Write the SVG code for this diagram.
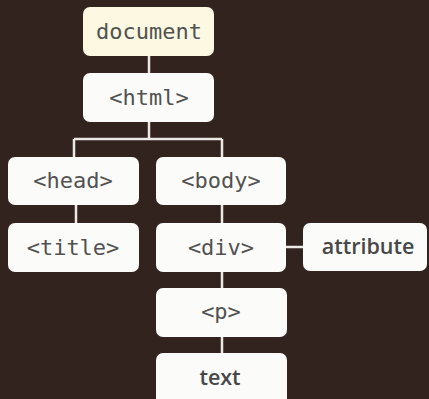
<svg xmlns="http://www.w3.org/2000/svg" width="429" height="399" viewBox="0 0 429 399">
<style>
.box{fill:#fbfbf9;}
.doc{fill:#fcf8e2;}
.mono{font-family:"DejaVu Sans Mono","Liberation Mono",monospace;font-size:22px;fill:#525252;text-anchor:middle;}
.sans{font-family:"Open Sans","Liberation Sans",sans-serif;font-weight:600;font-size:21.5px;fill:#484848;text-anchor:middle;}
.conn{stroke:#ece8e4;stroke-width:2.5;fill:none;}
</style>
<rect width="429" height="399" fill="#33231f"/>
<g id="connectors">
<path class="conn" d="M149 56V73M149 122V139M74 139H222M74 139V157M222 139V157M76 205V223M222 205V223M286 247H303M222 272V288M222 337V353"/>
</g>
<g id="document"><rect class="doc" x="83" y="7" width="131" height="49" rx="7"/><text class="mono" x="149" y="39">document</text></g>
<g id="html"><rect class="box" x="83" y="73" width="131" height="49" rx="7"/><text class="mono" x="149" y="105">&lt;html&gt;</text></g>
<g id="head"><rect class="box" x="8" y="157" width="131" height="48" rx="7"/><text class="mono" x="73" y="188">&lt;head&gt;</text></g>
<g id="body"><rect class="box" x="156" y="157" width="130" height="48" rx="7"/><text class="mono" x="221" y="188">&lt;body&gt;</text></g>
<g id="title"><rect class="box" x="8" y="223" width="131" height="49" rx="7"/><text class="mono" x="73" y="255">&lt;title&gt;</text></g>
<g id="div"><rect class="box" x="156" y="223" width="130" height="49" rx="7"/><text class="mono" x="221" y="255">&lt;div&gt;</text></g>
<g id="attribute"><rect class="box" x="303" y="223" width="124" height="48" rx="7"/><text class="sans" x="368" y="254">attribute</text></g>
<g id="p"><rect class="box" x="156" y="288" width="131" height="49" rx="7"/><text class="mono" x="221" y="319">&lt;p&gt;</text></g>
<g id="text"><rect class="box" x="156" y="353" width="131" height="52" rx="7"/><text class="sans" x="220" y="385">text</text></g>
</svg>
